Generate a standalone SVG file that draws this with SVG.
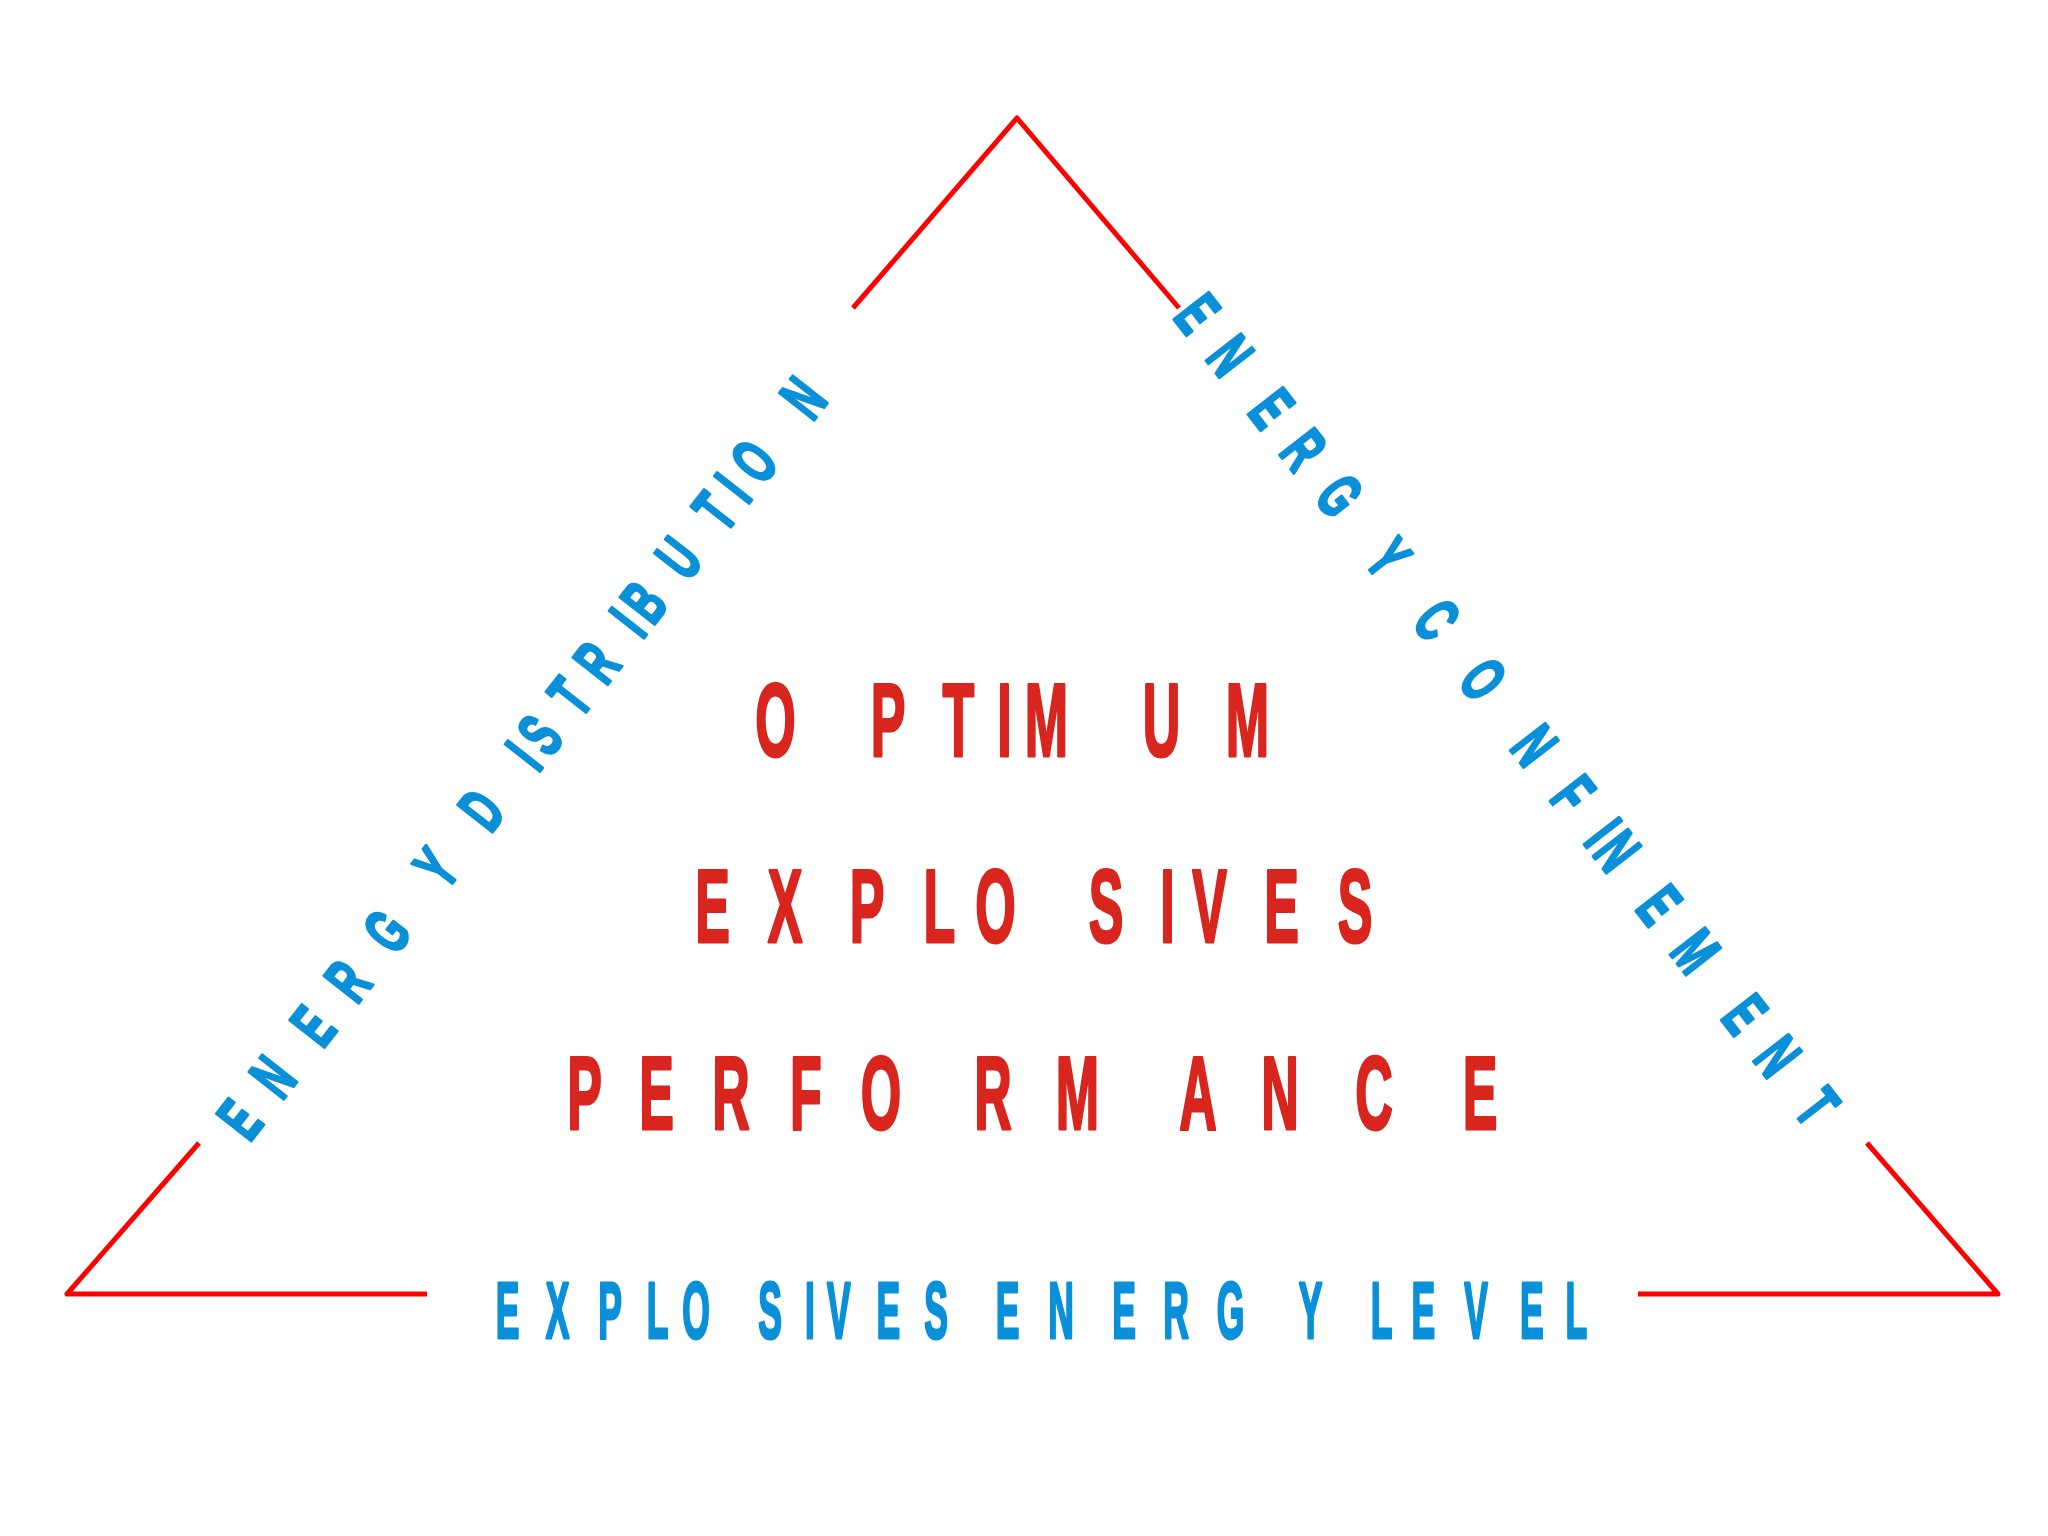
<svg xmlns="http://www.w3.org/2000/svg" width="2048" height="1536" viewBox="0 0 2048 1536">
  <style>
    .red { fill: #d8261e; stroke: #d8261e; stroke-width: 3; stroke-linejoin: round; font-family: "Liberation Sans", Arial, sans-serif; font-weight: bold; font-size: 104px; text-anchor: middle; }
    .blue { fill: #0a90d9; stroke: #0a90d9; stroke-linejoin: round; font-family: "Liberation Sans", Arial, sans-serif; font-weight: bold; text-anchor: middle; }
    .side { font-size: 64px; stroke-width: 3; }
    .base { font-size: 79px; stroke-width: 3; }
    .edge { fill: none; stroke: #ff0000; stroke-width: 5; stroke-linejoin: round; stroke-linecap: butt; }
  </style>
  <rect width="2048" height="1536" fill="#ffffff"/>

  <g id="connectors">
    <polyline class="edge" points="853,308 1017,118 1179,308"/>
    <polyline class="edge" points="199,1143 67,1294 427,1294"/>
    <polyline class="edge" points="1638,1294 1998,1294 1867,1143"/>
  </g>

  <g id="title">
    <text class="red" transform="scale(0.5,1)" y="756" x="1551 1776 1917 2009 2093 2323 2495">OPTIMUM</text>
    <text class="red" transform="scale(0.5,1)" y="942" x="1425 1570 1734 1879 1991 2212 2335 2419 2563 2710">EXPLOSIVES</text>
    <text class="red" transform="scale(0.5,1)" y="1129" x="1169 1313 1462 1612 1762 1986 2155 2396 2560 2748 2960">PERFORMANCE</text>
  </g>

  <g id="energy-distribution">
    <text class="blue side" transform="translate(239,1119) rotate(-52) scale(0.6,1)" y="23" x="0 90 198 293 398 532 592 655 769 813 894 967 1051 1094 1188 1286 1336 1392 1526">ENERGY DISTRIBUTION</text>
  </g>

  <g id="energy-confinement">
    <text class="blue side" transform="translate(1198,313) rotate(52) scale(0.6,1)" y="23" x="0 89 201 288 385 517 583 648 774 913 1017 1098 1137 1251 1349 1482 1571 1678">ENERGY CONFINEMENT</text>
  </g>

  <g id="explosives-energy-level">
    <text class="blue base" transform="scale(0.45,1)" y="1338" x="1127.8 1238.9 1355.6 1461.1 1546.7 1711.1 1800 1864.4 1974.4 2080 2155.6 2238.9 2357.8 2497.8 2613.3 2734.4 2912.2 2988.9 3070 3163.3 3280 3404.4 3503.3">EXPLOSIVES ENERGY LEVEL</text>
  </g>
</svg>
